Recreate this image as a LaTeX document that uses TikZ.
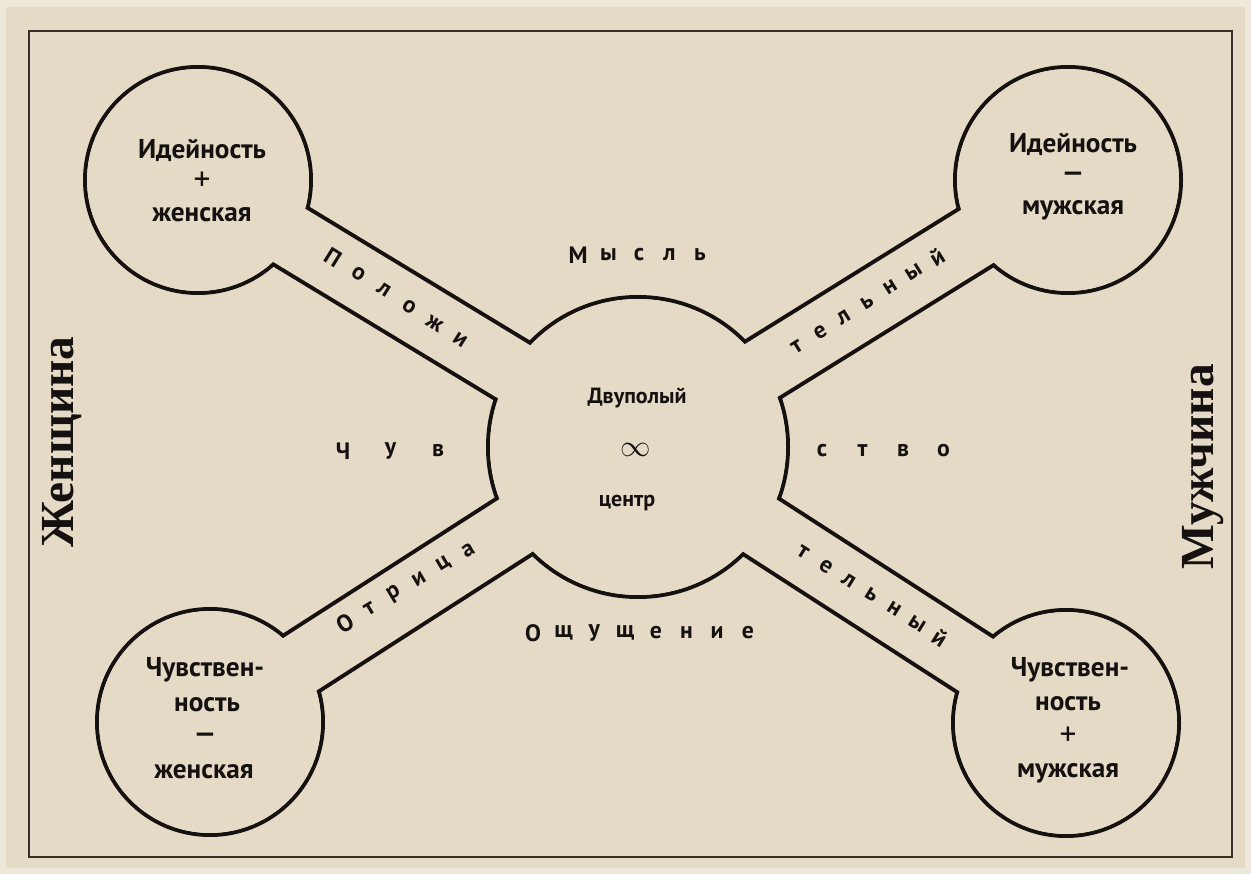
\documentclass[tikz,border=0pt]{standalone}
\usepackage{fontspec}
\setmainfont{PT Sans}
\newfontfamily\sideFont{Liberation Serif}
\definecolor{papBg}{HTML}{E4DAC5}
\definecolor{papEdge}{HTML}{EEE8DA}
\definecolor{inkLine}{HTML}{141110}
\definecolor{frmLine}{HTML}{3A2C2A}

\tikzset{
  lbl/.style={font=\bfseries\fontsize{15.5}{17}\selectfont, text=inkLine, inner sep=0pt},
  sign/.style={font=\fontsize{19}{21}\selectfont, text=inkLine, inner sep=0pt},
  hubtxt/.style={font=\bfseries\fontsize{12.5}{14}\selectfont, text=inkLine, inner sep=0pt},
  lettr/.style={font=\bfseries\fontsize{13.5}{15}\selectfont, text=inkLine, inner sep=0pt},
  sidetxt/.style={font=\sideFont\bfseries\fontsize{27}{30}\selectfont, text=inkLine, rotate=90, inner sep=0pt},
}

\begin{document}
\begin{tikzpicture}[x=0.02cm, y=-0.02cm]

% --- PAPER ---
\fill[papEdge] (0,0) rectangle (1251,874);
\fill[papBg] (6,7) rectangle (1245,868);
\useasboundingbox (0,0) rectangle (1251,874);
\draw[frmLine, line width=1.2pt] (29,31) rectangle (1232,857);

\def\rHub{150}
\def\rSat{113}
\def\armW{1.32cm}   % strip width (66 px)
\def\lw{0.08cm}     % outline

% --- CENTRES ---
\coordinate (hub) at (638,447);
\coordinate (ideaF) at (198,180);
\coordinate (ideaM) at (1068,180);
\coordinate (sensF) at (210,722);
\coordinate (sensM) at (1066,723);

% --- OUTLINE (black pass, then paper pass) ---
\foreach \sat in {ideaF,ideaM,sensF,sensM}
  \draw[inkLine, line width=\armW+\lw] (hub) -- (\sat);
\draw[inkLine, line width=\lw] (hub) circle[radius=\rHub];
\foreach \sat in {ideaF,ideaM,sensF,sensM}
  \draw[inkLine, line width=\lw] (\sat) circle[radius=\rSat];

\foreach \sat in {ideaF,ideaM,sensF,sensM}
  \draw[papBg, line width=\armW-\lw] (hub) -- (\sat);
\fill[papBg] (hub) circle[radius=\rHub-2];
\foreach \sat in {ideaF,ideaM,sensF,sensM}
  \fill[papBg] (\sat) circle[radius=\rSat-2];

% --- CIRCLE LABELS ---
\node[lbl] (ideaFa) at (202,150) {Идейность};
\node[sign] (ideaFb) at (202,181) {+};
\node[lbl] (ideaFc) at (202,215) {женская};

\node[lbl] (ideaMa) at (1073,144) {Идейность};
\node[lbl] (ideaMb) at (1073,177) {---};
\node[lbl] (ideaMc) at (1073,210) {мужская};

\node[lbl] (sensFa) at (205,670) {Чувствен-};
\node[lbl] (sensFb) at (207,705) {ность};
\node[lbl] (sensFc) at (205,738) {---};
\node[lbl] (sensFd) at (204,772) {женская};

\node[lbl] (sensMa) at (1070,670) {Чувствен-};
\node[lbl] (sensMb) at (1068,704) {ность};
\node[sign] (sensMc) at (1068,736) {+};
\node[lbl] (sensMd) at (1068,773) {мужская};

% --- HUB ---
\node[hubtxt] (hubA) at (637,398) {Двуполый};
\node[hubtxt, font=\fontsize{16}{18}\selectfont] (hubB) at (636,450) {$\infty$};
\node[hubtxt] (hubC) at (627,503) {центр};

% --- SPACED WORDS ---
\foreach \ch [count=\i from 0] in {М,ы,с,л,ь}
  \node[lettr] (mysl\i) at ({578+30.5*\i},255) {\ch};
\foreach \ch [count=\i from 0] in {Ч,у,в}
  \node[lettr] (chuv\i) at ({343+47.5*\i},451) {\ch};
\foreach \ch [count=\i from 0] in {с,т,в,о}
  \node[lettr] (stvo\i) at ({822+40.5*\i},451) {\ch};
\foreach \ch [count=\i from 0] in {О,щ,у,щ,е,н,и,е}
  \node[lettr] (oshch\i) at ({533+30.7*\i},633) {\ch};

% --- ARM WORDS ---
\foreach \ch [count=\i from 0] in {П,о,л,о,ж,и}
  \node[lettr, rotate=-32] (polo\i) at ({333+25.4*\i},{257+16.6*\i}) {\ch};
\foreach \ch [count=\i from 0] in {т,е,л,ь,н,ы,й}
  \node[lettr, rotate=32] (telU\i) at ({797+23.3*\i},{347-15*\i}) {\ch};
\foreach \ch [count=\i from 0] in {О,т,р,и,ц,а}
  \node[lettr, rotate=31] (otri\i) at ({345+24.6*\i},{623-14.6*\i}) {\ch};
\foreach \ch [count=\i from 0] in {т,е,л,ь,н,ы,й}
  \node[lettr, rotate=-32] (telD\i) at ({803+22.8*\i},{552+14.3*\i}) {\ch};

% --- SIDES ---
\node[sidetxt] (woman) at (62,442) {Женщина};
\node[sidetxt] (man) at (1203,467) {Мужчина};

\end{tikzpicture}
\end{document}
